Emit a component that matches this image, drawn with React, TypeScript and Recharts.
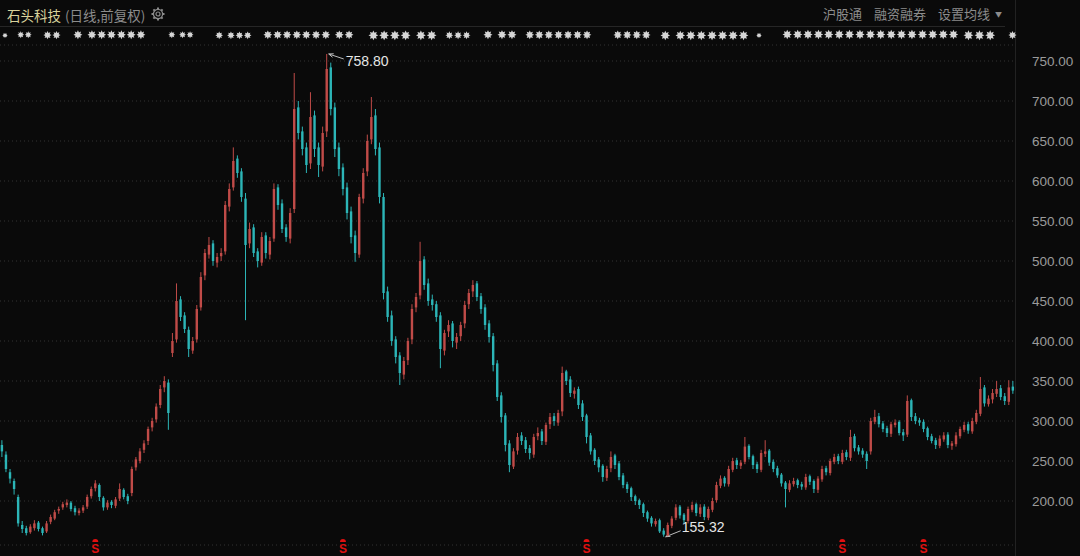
import React from "react";
import { ComposedChart, Bar, XAxis, YAxis, CartesianGrid } from "recharts";

// ---- data (~4 trading days per candle) ----
const opens = [
  270,258,236,225,205,170,166,161,166,173,
  166,162,174,178,188,192,195,198,191,185,
  188,193,206,216,220,204,192,199,194,203,
  214,206,210,242,250,264,275,292,302,320,
  342,348,385,402,452,432,414,388,402,442,
  482,508,522,498,506,512,568,592,628,612,
  578,522,542,512,498,532,508,528,592,572,
  542,528,565,692,662,642,622,682,642,618,
  662,742,692,642,617,592,562,532,508,578,
  612,652,682,642,580,462,432,402,382,358,
  376,402,442,457,502,472,452,446,432,388,
  412,422,398,406,422,446,462,472,456,442,
  422,406,372,332,307,272,243,263,282,276,
  266,258,281,287,274,296,306,298,312,362,
  352,334,340,322,307,282,264,252,244,229,
  241,257,247,232,221,216,206,201,196,186,
  179,171,176,163,157,169,179,193,183,175,
  189,196,184,193,179,189,201,219,229,221,
  239,251,244,249,269,256,246,239,259,263,
  249,241,233,223,214,221,226,221,217,231,
  225,214,227,241,235,249,256,249,261,254,
  281,267,263,259,262,299,306,297,291,284,
  295,299,286,283,326,306,301,299,291,281,
  276,269,277,283,269,271,281,289,296,287,
  299,309,342,321,327,334,341,331,324,343,
];
const highs = [
  276,262,240,228,208,175,169,171,176,175,
  168,175,183,189,193,199,202,200,194,191,
  195,208,218,226,222,206,201,201,205,222,
  216,209,243,255,266,276,293,304,322,345,
  356,352,410,472,456,436,418,405,445,486,
  515,530,526,510,516,575,597,642,632,616,
  585,548,546,516,536,536,530,597,596,577,
  546,566,735,700,668,648,711,688,648,668,
  758.8,748,698,648,622,598,568,538,584,616,
  658,705,690,648,585,468,438,406,386,380,
  404,446,460,524,506,478,458,450,436,414,
  426,425,410,424,450,465,476,475,460,446,
  426,410,376,336,310,276,266,285,286,280,
  270,284,292,290,298,310,310,314,368,364,
  356,342,343,326,309,285,266,255,246,244,
  262,259,250,235,224,218,208,203,198,188,
  181,178,178,166,173,181,196,195,185,193,
  199,198,196,196,193,204,224,232,231,244,
  254,254,251,280,271,258,249,264,276,265,
  252,244,235,225,226,229,228,224,234,233,
  227,231,244,244,253,259,259,264,264,289,
  284,270,266,262,304,314,310,300,294,299,
  302,301,290,332,328,310,304,302,293,284,
  279,282,286,286,275,286,293,299,299,304,
  314,355,345,332,340,350,345,335,351,350,
];
const lows = [
  255,236,222,208,168,160,157,159,163,162,
  157,160,171,176,184,189,192,187,182,182,
  185,190,203,212,200,188,189,191,191,200,
  202,196,206,238,247,260,270,287,298,316,
  336,289,380,398,425,410,380,384,398,438,
  476,503,494,492,500,508,562,588,604,574,
  426,516,505,492,494,503,502,524,564,535,
  524,522,560,652,632,610,615,630,605,612,
  655,682,630,606,582,552,522,499,504,572,
  606,646,632,572,452,424,394,372,345,352,
  370,396,436,452,464,444,438,424,366,382,
  405,392,390,400,416,440,455,450,434,414,
  398,362,325,298,262,236,240,258,270,260,
  252,254,276,270,270,290,294,294,306,345,
  330,328,315,300,272,258,245,236,224,225,
  236,240,226,216,210,200,195,190,180,174,
  168,168,160,155.32,156,166,176,178,172,172,
  186,181,180,176,176,186,198,216,218,218,
  236,240,240,246,252,240,235,236,255,244,
  236,229,218,192,211,218,216,214,214,220,
  210,210,224,232,232,246,246,246,251,250,
  262,258,254,240,258,296,292,286,280,280,
  292,282,275,280,300,296,294,286,276,272,
  265,266,274,266,264,268,278,286,284,284,
  296,306,318,318,322,330,326,320,320,334,
];
const closes = [
  262,240,228,215,172,165,160,168,172,165,
  160,172,180,186,190,196,198,190,186,188,
  192,205,215,222,205,192,198,195,202,215,
  205,200,240,252,262,272,290,300,318,340,
  350,310,400,450,430,415,390,400,440,480,
  510,520,500,505,510,570,590,625,610,580,
  520,540,510,500,530,510,525,590,570,540,
  530,560,690,660,640,620,680,640,620,660,
  740,690,640,615,590,560,530,510,580,610,
  650,680,640,580,460,430,400,380,360,375,
  400,440,455,500,470,450,445,430,390,410,
  420,400,405,420,445,460,470,455,440,420,
  405,370,330,305,270,245,262,280,275,265,
  260,280,285,275,295,305,300,310,360,350,
  335,338,320,305,280,262,250,242,230,240,
  255,245,230,220,215,205,200,195,185,178,
  172,175,162,158,170,178,192,182,176,190,
  195,185,192,180,190,200,220,228,222,240,
  250,245,248,268,255,245,240,260,262,248,
  240,232,222,215,222,225,220,218,230,224,
  215,228,240,236,250,255,250,260,255,280,
  266,262,258,250,300,305,296,290,285,296,
  298,285,282,325,305,300,298,290,280,275,
  270,278,282,270,272,282,290,295,288,300,
  310,340,322,328,335,340,330,325,342,338,
];
// candles carrying the red "S" (dividend) marker
const dividendIdx = [23, 84, 144, 207, 227];
const yTicks = [200, 250, 300, 350, 400, 450, 500, 550, 600, 650, 700, 750];

const title = "石头科技";
const subtitle = "(日线,前复权)";
const rightMenu = ["沪股通", "融资融券", "设置均线"];

// ---- styles ----
const BG = "#0a0a0a";
const RED = "#c04b48";
const CYAN = "#2cb5b7";
const AXIS_TEXT = "#9b9b9b";
const FONT_CJK = "'Noto Sans CJK SC', 'Noto Sans', sans-serif";
const MARK_FONT = "'DejaVu Sans'";

const data = closes.map((c, i) => ({
  i,
  open: opens[i],
  close: c,
  high: highs[i],
  low: lows[i],
  range: [lows[i], highs[i]],
}));
const maxHigh = Math.max(...highs);
const minLow = Math.min(...lows);

// pixel ranges + glyph patterns of the (pixelated) info-marker row at the top
const S = "✸";
const markerRow: [number, number, string][] = [
  [2, 9, S], [17, 33, S + S], [43, 62, S.repeat(2)],
  [73, 147, S + " " + S.repeat(6)], [168, 195, S + " " + S.repeat(2)],
  [215, 253, S + " " + S.repeat(3)], [263, 355, S.repeat(7) + " " + S.repeat(2)],
  [368, 438, S.repeat(4) + " " + S.repeat(2)], [445, 472, S.repeat(3)],
  [483, 518, S + " " + S.repeat(2)], [525, 593, S.repeat(7)],
  [613, 652, S.repeat(4)], [660, 750, S + " " + S.repeat(7)], [756, 763, S],
  [782, 960, S.repeat(17)], [963, 997, S.repeat(3)], [1008, 1018, S],
];

let ctx: CanvasRenderingContext2D | null = null;
function textWidth(s: string, size: number) {
  if (!ctx && typeof document !== "undefined") {
    ctx = document.createElement("canvas").getContext("2d");
  }
  if (!ctx) return s.length * size * 0.85;
  ctx.font = `bold ${size}px ${MARK_FONT}`;
  return ctx.measureText(s).width;
}

function Candle(props: any) {
  const { x, y, width, height, payload, index } = props;
  if (x == null || payload == null) return null;
  const cx = x + width / 2;
  const { open, close, high, low } = payload;
  const span = high - low || 1;
  const py = (v: number) => y + ((high - v) / span) * height;
  const up = close >= open;
  const color = up ? RED : CYAN;
  const top = py(Math.max(open, close));
  const bot = py(Math.min(open, close));
  const bw = 2.4;
  const els: any[] = [];
  els.push(
    <line key="w" x1={cx} x2={cx} y1={y} y2={y + height} stroke={color} strokeWidth={1} />
  );
  els.push(
    <rect key="b" x={cx - bw / 2} y={top} width={bw} height={Math.max(1, bot - top)} fill={color} />
  );
  if (high === maxHigh) {
    els.push(
      <g key="mx">
        <line x1={cx + 17} y1={y + 5} x2={cx + 2} y2={y} stroke="#bbbbbb" strokeWidth={1} />
        <path d={`M${cx + 2},${y} l5,-0.2 M${cx + 2},${y} l3.8,3.3`} stroke="#bbbbbb" strokeWidth={1} fill="none" />
        <text x={cx + 19} y={y + 12} fill="#e6e6e6" fontSize={14} fontFamily="'Liberation Sans', Arial, sans-serif">
          {high.toFixed(2)}
        </text>
      </g>
    );
  }
  if (low === minLow) {
    const ly = y + height;
    els.push(
      <g key="mn">
        <line x1={cx + 17} y1={ly - 6} x2={cx + 2} y2={ly} stroke="#bbbbbb" strokeWidth={1} />
        <path d={`M${cx + 2},${ly} l4.8,-0.4 M${cx + 2},${ly} l3.6,-3.3`} stroke="#bbbbbb" strokeWidth={1} fill="none" />
        <text x={cx + 18} y={ly - 5} fill="#e6e6e6" fontSize={14} fontFamily="'Liberation Sans', Arial, sans-serif">
          {low.toFixed(2)}
        </text>
      </g>
    );
  }
  if (dividendIdx.includes(index)) {
    els.push(
      <g key="s">
        <path d={`M${cx - 3},${542} a3,3 0 0 1 6,0 z`} fill="#e01010" />
        <text x={cx} y={553} textAnchor="middle" fill="#e01010" fontSize={12} fontWeight="bold"
          fontFamily="'Liberation Sans', Arial, sans-serif">S</text>
      </g>
    );
  }
  return <g>{els}</g>;
}

function Gear() {
  const teeth = [];
  for (let k = 0; k < 8; k++) {
    const a = (k * Math.PI) / 4;
    teeth.push(
      <line key={k} x1={7 + Math.cos(a) * 4.5} y1={7 + Math.sin(a) * 4.5}
        x2={7 + Math.cos(a) * 6.5} y2={7 + Math.sin(a) * 6.5} stroke="#8a8a8a" strokeWidth={2} />
    );
  }
  return (
    <svg width={14} height={14} style={{ position: "absolute", left: 151, top: 7 }}>
      <circle cx={7} cy={7} r={4.6} stroke="#8a8a8a" strokeWidth={1.3} fill="none" />
      <circle cx={7} cy={7} r={2} stroke="#8a8a8a" strokeWidth={1.2} fill="none" />
      {teeth}
    </svg>
  );
}

function MarkerRow() {
  return (
    <svg width={1080} height={48} style={{ position: "absolute", left: 0, top: 0 }}>
      {markerRow.map(([a, b, pat], k) => {
        const w10 = textWidth(pat, 10);
        const size = Math.max(6, Math.min(13, (10 * (b - a - 1)) / w10));
        return (
          <text key={k} x={a} y={35 + size * 0.36} fontSize={size} fontWeight="bold" fill="#d6d6d6"
            fontFamily={MARK_FONT} style={{ filter: "blur(0.35px)" }}>
            {pat}
          </text>
        );
      })}
    </svg>
  );
}

export default function App() {
  return (
    <div style={{ position: "absolute", left: 0, top: 0, width: 1080, height: 556, background: BG, overflow: "hidden", fontFamily: FONT_CJK }}>
      {/* header */}
      <div style={{ position: "absolute", left: 7, top: 5, fontSize: 13.5, lineHeight: "20px", color: "#d8d29c", whiteSpace: "nowrap" }}>
        {title}
        <span style={{ color: "#8c8c8c", marginLeft: 4 }}>{subtitle}</span>
      </div>
      <Gear />
      <div style={{ position: "absolute", left: 823, top: 4, fontSize: 13, lineHeight: "20px", color: "#8c8c8c", whiteSpace: "nowrap" }}>
        <span>{rightMenu[0]}</span>
        <span style={{ marginLeft: 12 }}>{rightMenu[1]}</span>
        <span style={{ marginLeft: 12 }}>{rightMenu[2]}</span>
        <span style={{ marginLeft: 5, fontSize: 7, verticalAlign: "2px" }}>▼</span>
      </div>
      <div style={{ position: "absolute", left: 0, top: 26, width: 1005, height: 1, background: "#262626" }} />
      <div style={{ position: "absolute", left: 1015, top: 0, width: 1, height: 556, background: "#222222" }} />
      <MarkerRow />
      <div style={{ position: "absolute", left: 0, top: 0 }}>
        <ComposedChart width={1080} height={556} data={data}
          margin={{ top: 45, right: 0, bottom: 11, left: 0 }} barCategoryGap="10%">
          <CartesianGrid vertical={false} stroke="#333333" strokeDasharray="1 3" />
          <XAxis dataKey="i" hide />
          <YAxis orientation="right" width={65} domain={[145, 770]} ticks={yTicks} interval={0}
            axisLine={false} tickLine={false} tickSize={0} tickMargin={17}
            tickFormatter={(v: number) => v.toFixed(2)}
            tick={{ fill: AXIS_TEXT, fontSize: 13.5, fontFamily: "'Liberation Sans', Arial, sans-serif" }} />
          <Bar dataKey="range" shape={<Candle />} isAnimationActive={false} />
        </ComposedChart>
      </div>
    </div>
  );
}
